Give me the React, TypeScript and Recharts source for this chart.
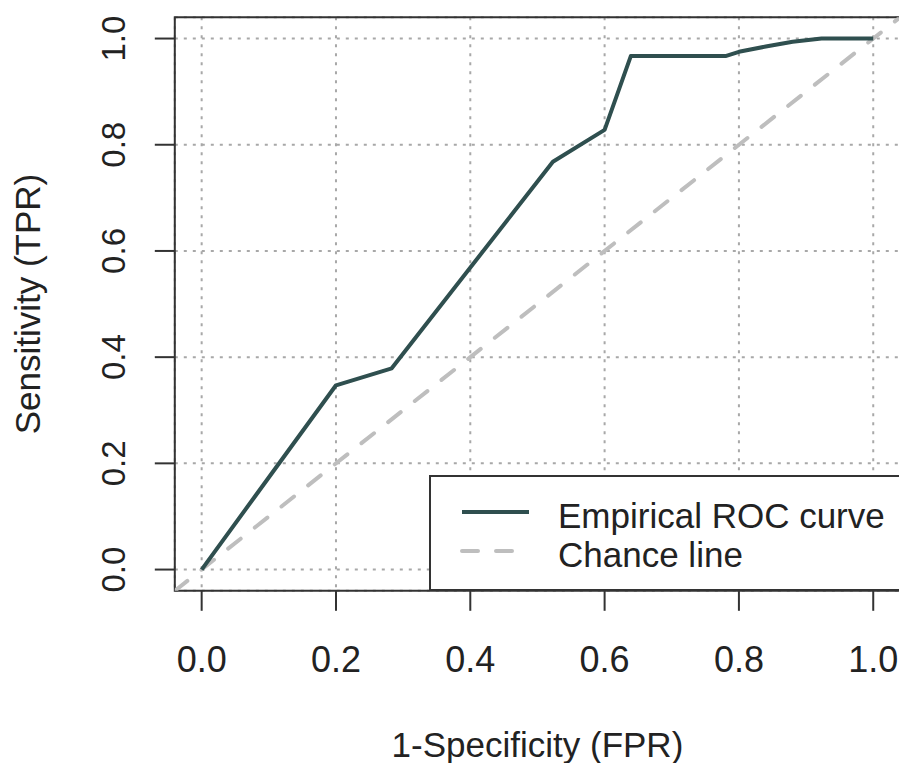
import React from 'react';
import {
  LineChart,
  Line,
  XAxis,
  YAxis,
  CartesianGrid,
  ReferenceArea,
  Legend,
} from 'recharts';

// empirical ROC points
const fprValues = [0, 0.2, 0.283, 0.523, 0.6, 0.639, 0.78, 0.8, 0.84, 0.88, 0.923, 1.0];
const tprValues = [0, 0.347, 0.379, 0.768, 0.828, 0.967, 0.967, 0.975, 0.985, 0.994, 1.0, 1.0];

// abline(0, 1) runs across the whole plot region
const chanceValues = [-0.04, 1.04];

const axisTicks = [0, 0.2, 0.4, 0.6, 0.8, 1.0];
const axisDomain = [-0.04, 1.04];

const seriesNames = ['Empirical ROC curve', 'Chance line'];
const rocColor = '#2f4f4f';
const chanceColor = '#bebebe';
const chanceDash = '16 18';

const rocData = fprValues.map((fpr, i) => ({ fpr, tpr: tprValues[i] }));
const chanceData = chanceValues.map((v) => ({ fpr: v, tpr: v }));

const font = '"Liberation Sans", Arial, Helvetica, sans-serif';
const ink = '#222';

const XTick = ({ x, y, payload }: any) => (
  <text x={x} y={y + 61} textAnchor="middle" fontSize={36} fontFamily={font} fill={ink}>
    {Number(payload.value).toFixed(1)}
  </text>
);

const YTick = ({ x, y, payload }: any) => {
  const tx = x - 30;
  return (
    <text
      x={tx}
      y={y}
      transform={`rotate(-90 ${tx} ${y})`}
      textAnchor="middle"
      fontSize={33}
      fontFamily={font}
      fill={ink}
    >
      {Number(payload.value).toFixed(1)}
    </text>
  );
};

const XTitle = ({ viewBox }: any) => (
  <text
    x={viewBox.x + viewBox.width / 2}
    y={viewBox.y + 166}
    textAnchor="middle"
    fontSize={35}
    fontFamily={font}
    fill={ink}
  >
    1-Specificity (FPR)
  </text>
);

const YTitle = ({ viewBox }: any) => {
  const tx = viewBox.x + 40;
  const ty = viewBox.y + viewBox.height / 2;
  return (
    <text
      x={tx}
      y={ty}
      transform={`rotate(-90 ${tx} ${ty})`}
      textAnchor="middle"
      fontSize={35}
      fontFamily={font}
      fill={ink}
    >
      Sensitivity (TPR)
    </text>
  );
};

const LegendBox = ({ payload }: any) => {
  const items = seriesNames
    .map((n) => (payload || []).find((p: any) => p.value === n))
    .filter(Boolean);
  return (
    <svg width={480} height={116} style={{ display: 'block' }}>
      <rect x={1} y={1} width={478} height={114} fill="#fff" stroke="#333" strokeWidth={2} />
      {items.map((it: any, i: number) => (
        <g key={it.value}>
          <line
            x1={33}
            x2={100}
            y1={37 + i * 39}
            y2={37 + i * 39}
            stroke={it.color}
            strokeWidth={4}
            strokeLinecap={it.value === 'Chance line' ? 'round' : 'butt'}
            strokeDasharray={it.value === 'Chance line' ? chanceDash : undefined}
          />
          <text x={129} y={53 + i * 39} fontSize={35} fontFamily={font} fill={ink}>
            {it.value}
          </text>
        </g>
      ))}
    </svg>
  );
};

export default function App() {
  return (
    <div
      style={{
        position: 'absolute',
        left: 0,
        top: 0,
        width: 899,
        height: 763,
        overflow: 'hidden',
        background: '#fff',
      }}
    >
      <LineChart
        width={910}
        height={763}
        margin={{ top: 17.3, right: 9.9, bottom: 0, left: 0 }}
      >
        <CartesianGrid
          stroke="#a8a8a8"
          strokeWidth={2}
          strokeDasharray="3 6"
        />
        <XAxis
          type="number"
          dataKey="fpr"
          domain={axisDomain}
          ticks={axisTicks}
          interval={0}
          allowDataOverflow
          height={172.2}
          axisLine={false}
          tickSize={20}
          tickMargin={0}
          tickLine={{ stroke: '#333', strokeWidth: 2 }}
          tick={<XTick />}
          label={{ content: <XTitle /> }}
        />
        <YAxis
          type="number"
          dataKey="tpr"
          domain={axisDomain}
          ticks={axisTicks}
          interval={0}
          allowDataOverflow
          width={174.8}
          axisLine={false}
          tickSize={20}
          tickMargin={0}
          tickLine={{ stroke: '#333', strokeWidth: 2 }}
          tick={<YTick />}
          label={{ content: <YTitle /> }}
        />
        <Line
          data={chanceData}
          dataKey="tpr"
          name="Chance line"
          type="linear"
          stroke={chanceColor}
          strokeWidth={4}
          strokeDasharray={chanceDash}
          strokeLinecap="round"
          dot={false}
          activeDot={false}
          isAnimationActive={false}
        />
        <Line
          data={rocData}
          dataKey="tpr"
          name="Empirical ROC curve"
          type="linear"
          stroke={rocColor}
          strokeWidth={4}
          strokeLinejoin="round"
          dot={false}
          activeDot={false}
          isAnimationActive={false}
        />
        <ReferenceArea
          x1={axisDomain[0]}
          x2={axisDomain[1]}
          y1={axisDomain[0]}
          y2={axisDomain[1]}
          fill="none"
          stroke="#333"
          strokeWidth={2}
          ifOverflow="visible"
        />
        <Legend
          layout="vertical"
          align="center"
          verticalAlign="middle"
          width={480}
          height={116}
          wrapperStyle={{ left: 429, top: 475, width: 480, height: 116 }}
          content={<LegendBox />}
        />
      </LineChart>
    </div>
  );
}
